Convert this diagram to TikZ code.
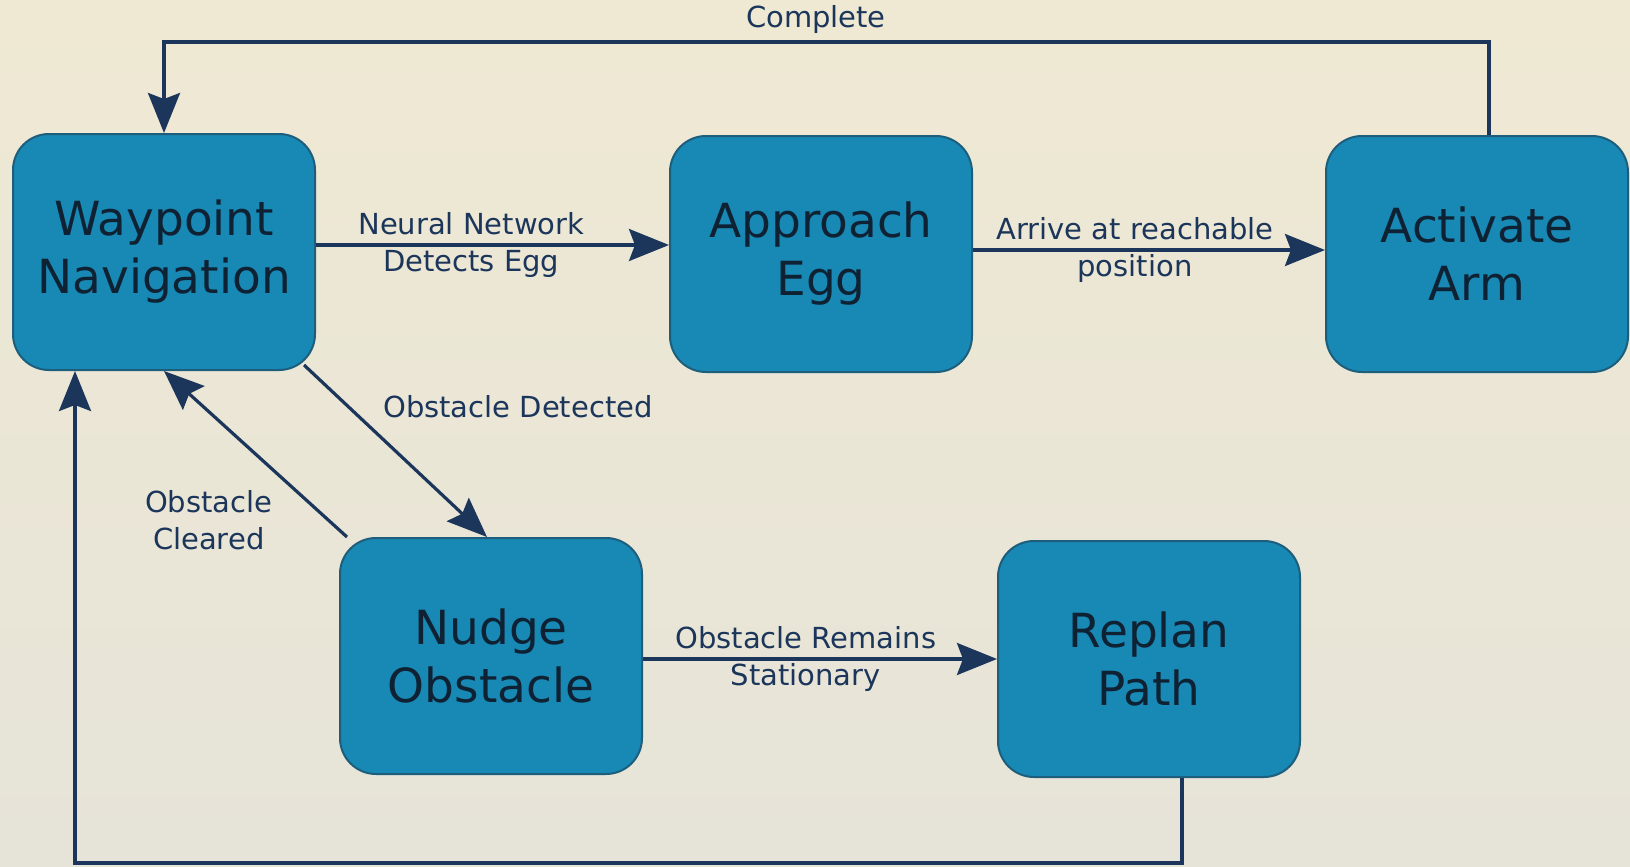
\documentclass[tikz,border=0pt]{standalone}
\usepackage{fontspec}
\setmainfont{DejaVu Sans}
\usetikzlibrary{arrows.meta}
\definecolor{bgtop}{HTML}{EFE9D3}
\definecolor{bgbot}{HTML}{E6E3D9}
\definecolor{boxfill}{HTML}{1888B4}
\definecolor{boxline}{HTML}{1D5E7C}
\definecolor{navy}{HTML}{1B365A}
\definecolor{ink}{HTML}{0F2234}

\begin{document}
\begin{tikzpicture}[x=0.5pt,y=-0.5pt,
  state/.style={draw=boxline,line width=1pt,fill=boxfill,rounded corners=18pt,
    minimum width=151pt,minimum height=118pt,align=center,text=ink,
    font=\fontsize{23.5}{29}\selectfont},
  trans/.style={draw=navy,line width=1.6pt,-{Stealth[length=20pt,width=16pt,inset=3pt]}},
  lbl/.style={align=center,text=navy,font=\fontsize{14.5}{18.5}\selectfont}]
  \shade[top color=bgtop,bottom color=bgbot] (0,0) rectangle (1630,867);
  \useasboundingbox (0,0) rectangle (1630,867);

  \node[state] (wn) at (164,252) {Waypoint\\Navigation};
  \node[state] (ae) at (821,254) {Approach\\Egg};
  \node[state] (aa) at (1477,254) {Activate\\Arm};
  \node[state] (nd) at (491,656) {Nudge\\Obstacle};
  \node[state] (rp) at (1149,659) {Replan\\Path};

  \draw[trans] (wn.east |- 0,245) -- node[lbl,pos=0.44] {Neural Network\\Detects Egg} (ae.west |- 0,245);
  \draw[trans] (ae.east |- 0,250) -- node[lbl,pos=0.46] {Arrive at reachable\\position} (aa.west |- 0,250);
  \draw[trans] (nd.east |- 0,659) -- node[lbl,pos=0.46] {Obstacle Remains\\Stationary} (rp.west |- 0,659);
  \draw[trans] ([xshift=-6pt,yshift=3pt]wn.south east) -- node[lbl,pos=0.24,anchor=west,xshift=13.5pt] {Obstacle Detected} ([xshift=-2pt]nd.north);
  \draw[trans] ([xshift=4pt]nd.north west) -- node[lbl,pos=0.1,anchor=east,xshift=-24pt] {Obstacle\\Cleared} (wn.south);
  \draw[trans] ([xshift=6pt]aa.north) -- ([xshift=6pt]aa.north |- 0,42) -- node[lbl,above,pos=0.508] {Complete} (wn.north |- 0,42) -- (wn.north);
  \draw[trans] ([xshift=16.5pt]rp.south) |- ([xshift=-44.5pt]wn.south |- 0,863) -- ([xshift=-44.5pt]wn.south);
\end{tikzpicture}
\end{document}
